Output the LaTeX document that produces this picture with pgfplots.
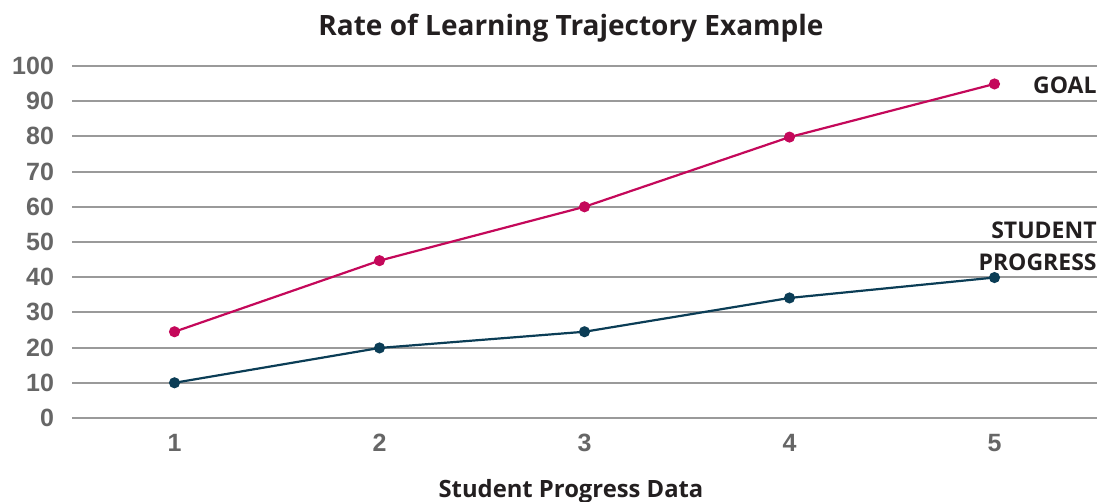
\documentclass[border=0pt]{standalone}
\usepackage{fontspec}
\setmainfont{Open Sans}
\newfontfamily\helv{Liberation Sans}
\usepackage{pgfplots}
\pgfplotsset{compat=1.18}
\definecolor{goalc}{HTML}{C4085A}
\definecolor{studc}{HTML}{0B3D56}
\definecolor{gridc}{HTML}{9A9A9A}
\definecolor{tickc}{HTML}{666666}
\definecolor{txtc}{HTML}{231F20}
\begin{document}
\begin{tikzpicture}[x=0.5pt,y=0.5pt]
\useasboundingbox (0,0) rectangle (1099,502);
\begin{axis}[
  at={(36pt,42pt)}, anchor=south west,
  scale only axis, width=512.5pt, height=176pt,
  xmin=0.5, xmax=5.5, ymin=0, ymax=100,
  xtick={1,2,3,4,5}, ytick={0,10,...,100},
  axis line style={draw=none}, tick style={draw=none},
  ymajorgrids, grid style={gridc, line width=1pt},
  /pgf/number format/assume math mode=true,
  ticklabel style={font=\helv\bfseries\fontsize{12.5}{14}\selectfont, text=tickc},
  yticklabel style={xshift=-5.5pt},
  xticklabel style={yshift=-4.5pt},
  clip=false,
]
\addplot[goalc, line width=1.1pt, mark=*, mark size=2.2pt] coordinates {(1,24.5) (2,44.7) (3,60) (4,79.8) (5,94.9)};
\addplot[studc, line width=1.1pt, mark=*, mark size=2.2pt] coordinates {(1,10) (2,19.9) (3,24.5) (4,34.1) (5,39.9)};
\node[anchor=east, inner sep=0pt, text=txtc, font=\bfseries\fontsize{11.5}{13}\selectfont] at (rel axis cs:1,0.946) {GOAL};
\node[anchor=east, inner sep=0pt, text=txtc, font=\bfseries\fontsize{11.5}{16}\selectfont, align=right] at (rel axis cs:1,0.489) {STUDENT\\PROGRESS};
\end{axis}
\node[text=txtc, font=\bfseries\fontsize{14}{16}\selectfont] at (571,474) {Rate of Learning Trajectory Example};
\node[text=txtc, font=\bfseries\fontsize{11.9}{13}\selectfont] at (571,11) {Student Progress Data};
\end{tikzpicture}
\end{document}
